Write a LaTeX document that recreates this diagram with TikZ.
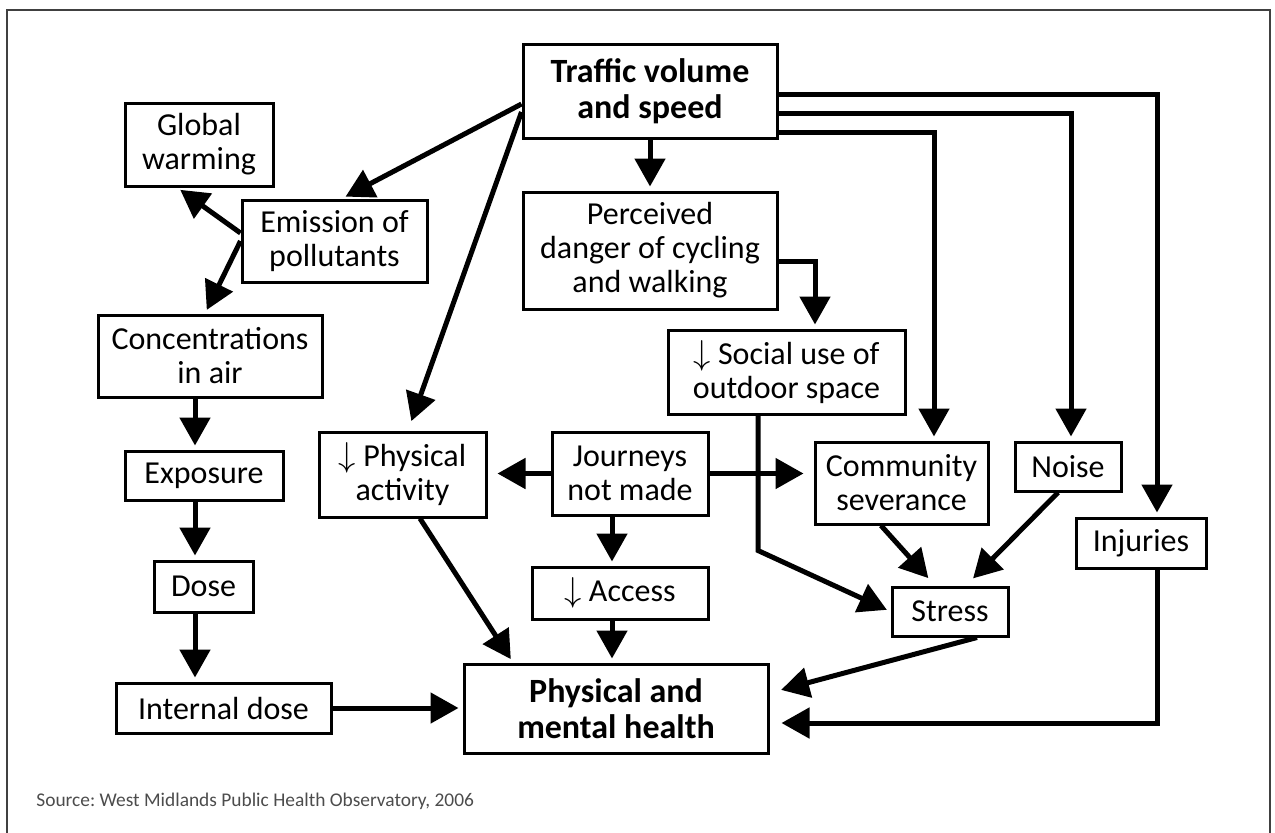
\documentclass[tikz,border=0pt]{standalone}
\usepackage{fontspec}
\setmainfont{Carlito}
\usetikzlibrary{arrows.meta,positioning}

\tikzset{
  factor/.style={draw, line width=1.5pt, inner sep=0pt, align=center, font=\fontsize{16}{17}\selectfont},
  keyfactor/.style={factor, font=\bfseries\fontsize{17}{18}\selectfont},
  link/.style={line width=2.5pt, -{Triangle[length=14pt,width=15pt]}, shorten >=2pt},
}

\begin{document}
\begin{tikzpicture}[x=0.5pt, y=-0.5pt]
		\useasboundingbox (0,0) rectangle (1275,832);
		\draw[black!75, line width=0.75pt] (7,845) |- (1270,10) -- (1270,845);

		\node[keyfactor, minimum width=127pt, minimum height=47pt] (traffic) at (650,91) {Traffic volume\\and speed};
		\node[factor, minimum width=127pt, minimum height=58.5pt] [below=25.5pt of traffic] (danger) {Perceived\\danger of cycling\\and walking};
		\node[factor, minimum width=74pt, minimum height=41.5pt] (warming) at (199,144.5) {Global\\warming};
		\node[factor, minimum width=92.5pt, minimum height=41pt] (emission) at (334.5,241) {Emission of\\pollutants};
		\node[factor, minimum width=112pt, minimum height=41pt] (conc) at (210,356) {Concentrations\\in air};
		\node[factor, minimum width=79pt, minimum height=24.5pt] (exposure) at (204,475.5) {Exposure};
		\node[factor, minimum width=49.5pt, minimum height=25.5pt] (dose) at (203.5,586.5) {Dose};
		\node[factor, minimum width=107.5pt, minimum height=25pt] (intdose) at (223.5,708) {Internal dose};
		\node[factor, minimum width=83.5pt, minimum height=42.5pt] (physact) at (402.5,474.5) {$\downarrow$ Physical\\activity};
		\node[factor, minimum width=78pt, minimum height=41.5pt] (journeys) at (630,473.5) {Journeys\\not made};
		\node[factor, minimum width=88pt, minimum height=26pt] (access) at (620,593) {$\downarrow$ Access};
		\node[factor, minimum width=118.5pt, minimum height=42pt] (social) at (786.5,372) {$\downarrow$ Social use of\\outdoor space};
		\node[factor, minimum width=86.5pt, minimum height=41pt] (severance) at (901.5,483) {Community\\severance};
		\node[factor, minimum width=53pt, minimum height=24.5pt] [right=12pt of severance.north east, anchor=north west] (noise) {Noise};
		\node[factor, minimum width=65pt, minimum height=25pt] (injuries) at (1141,543) {Injuries};
		\node[factor, minimum width=58pt, minimum height=24.5pt] (stress) at (950,611.5) {Stress};
		\node[keyfactor, minimum width=152pt, minimum height=44.5pt] (health) at (616,708.5) {Physical and\\mental health};

		\node[anchor=base west, inner sep=0pt, text=black!70, font=\fontsize{9.7}{12}\selectfont] (source) at (36,806) {Source:\ West Midlands Public Health Observatory, 2006};

		\path[link]
			([yshift=-6.5pt]traffic.west) edge ([xshift=3.75pt]emission.north)
			([yshift=-10.5pt]traffic.west) edge[shorten >=5pt] ([xshift=2.75pt]physact.north)
			(traffic) edge (danger)
			([yshift=4pt]emission.west) edge ([xshift=-11pt]warming.south)
			(emission.west) edge ([xshift=-2.5pt]conc.north)
			([xshift=-7.5pt]conc.south) edge ([xshift=-7.5pt]conc.south |- exposure.north)
			([xshift=-4.5pt]exposure.south) edge ([xshift=-4.5pt]exposure.south |- dose.north)
			([xshift=-4.25pt]dose.south) edge ([xshift=-4.25pt]dose.south |- intdose.north)
			(intdose.east) edge (intdose.east -| health.west)
			(journeys.west) edge[shorten >=5pt] (journeys.west -| physact.east)
			(journeys.east) edge[shorten >=5pt] (journeys.east -| severance.west)
			([xshift=-9pt]journeys.south) edge ([xshift=-9pt]journeys.south |- access.north)
			([xshift=-4pt]access.south) edge ([xshift=-4pt]access.south |- health.north)
			([xshift=8.75pt]physact.south) edge ([xshift=-51.5pt]health.north)
			([xshift=-10.25pt]severance.south) edge[shorten >=5pt] ([xshift=-7.5pt]stress.north)
			([xshift=-5pt]noise.south) edge[shorten >=5pt] ([xshift=8pt]stress.north)
			([xshift=13.5pt]stress.south) edge[shorten >=6pt] ([yshift=7.75pt]health.east);

		\draw[link] ([yshift=-1.5pt]traffic.east) -| ([xshift=8pt]injuries.north);
		\draw[link] ([yshift=-11pt]traffic.east) -| ([xshift=1.5pt]noise.north);
		\draw[link] ([yshift=-20.5pt]traffic.east) -| ([xshift=16.25pt]severance.north);
		\draw[link] ([yshift=-5.25pt]danger.east) -| ([xshift=14.25pt]social.north);
		\draw[link] ([xshift=-14.25pt]social.south) -- ++(0,135) -- (stress.west);
		\draw[link, shorten >=6pt] ([xshift=8pt]injuries.south) |- ([yshift=-7.25pt]health.east);
	\end{tikzpicture}
\end{document}
